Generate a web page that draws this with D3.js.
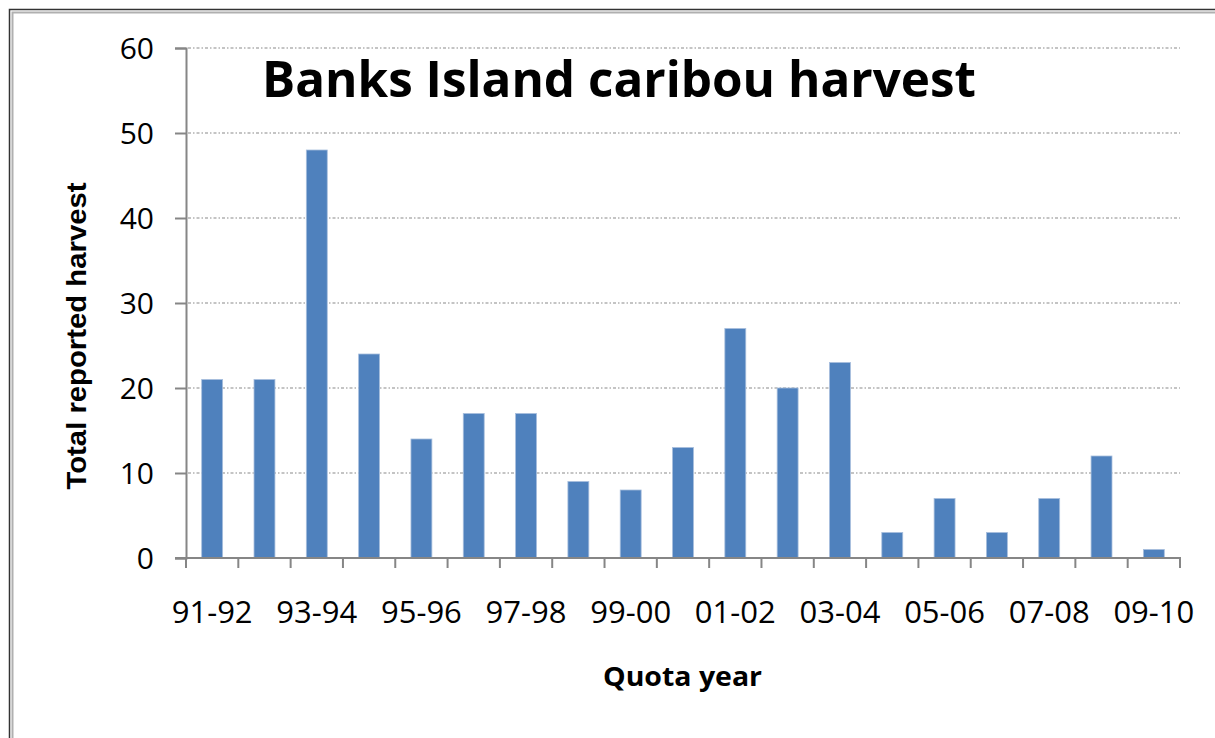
<!DOCTYPE html>
<html>
<head>
<meta charset="utf-8">
<script src="https://cdn.jsdelivr.net/npm/d3@7"></script>
<style>
  body { margin: 0; background: #fff; }
  svg { display: block; }
</style>
</head>
<body>
<div id="chart"></div>
<script>
// quota years and reported harvest
var years = ["91-92","92-93","93-94","94-95","95-96","96-97","97-98","98-99","99-00","00-01",
             "01-02","02-03","03-04","04-05","05-06","06-07","07-08","08-09","09-10"];
var harvest = [21, 21, 48, 24, 14, 17, 17, 9, 8, 13, 27, 20, 23, 3, 7, 3, 7, 12, 1];
var yTicks = [0, 10, 20, 30, 40, 50, 60];
// only every other year gets a label
var shownLabels = ["91-92","93-94","95-96","97-98","99-00","01-02","03-04","05-06","07-08","09-10"];

var w = 1215, h = 738;
// plot box (don't call it "top", that's window.top)
var plotL = 186, plotR = 1180, plotT = 48, plotB = 558;

var svg = d3.select("#chart").append("svg")
  .attr("width", w)
  .attr("height", h);

// frame round the chart (runs off the right and bottom edge)
svg.append("rect")
  .attr("x", 9.5).attr("y", 9.5)
  .attr("width", 1250).attr("height", 800)
  .attr("fill", "none").attr("stroke", "#333").attr("stroke-width", 1.5);
svg.append("rect")
  .attr("x", 12.5).attr("y", 12.5)
  .attr("width", 1250).attr("height", 800)
  .attr("fill", "none").attr("stroke", "#b0b0b0").attr("stroke-width", 2);

var x = d3.scaleBand()
  .domain(years)
  .range([plotL, plotR])
  .paddingInner(0.6)
  .paddingOuter(0.3);

var y = d3.scaleLinear()
  .domain([0, 60])
  .range([plotB, plotT]);

// gridlines
svg.append("g")
  .selectAll("line")
  .data(yTicks.filter(d => d > 0))
  .enter()
  .append("line")
  .attr("x1", plotL + 2)
  .attr("x2", plotR)
  .attr("y1", d => y(d))
  .attr("y2", d => y(d))
  .attr("stroke", "#8a8a8a")
  .attr("stroke-width", 1.2)
  .attr("stroke-dasharray", "3,2,1.5,2");

// bars
svg.append("g")
  .selectAll("rect")
  .data(harvest)
  .enter()
  .append("rect")
  .attr("x", (d, i) => x(years[i]))
  .attr("width", x.bandwidth())
  .attr("y", d => y(d))
  .attr("height", d => y(0) - y(d))
  .attr("fill", "#4f81bd")
  .attr("stroke", "#a7bedd")
  .attr("stroke-width", 0.8);

// y axis
var yAxis = svg.append("g")
  .attr("transform", "translate(" + plotL + ",0)")
  .call(d3.axisLeft(y).tickValues(yTicks).tickSize(11).tickPadding(21));
yAxis.select(".domain").attr("stroke", "#868686").attr("stroke-width", 2);
yAxis.selectAll(".tick line").attr("stroke", "#868686").attr("stroke-width", 2);
yAxis.selectAll(".tick text")
  .attr("fill", "#000")
  .style("font-family", "'Open Sans', sans-serif")
  .style("font-size", "30px")
  .attr("dy", "0.36em");

// x axis: ticks at the category boundaries
var step = x.step();
var edges = d3.range(years.length + 1).map(i => plotL + i * step);
var xAxis = svg.append("g");
xAxis.append("line")
  .attr("x1", plotL - 11).attr("x2", plotR + 1)
  .attr("y1", plotB).attr("y2", plotB)
  .attr("stroke", "#868686").attr("stroke-width", 2);
xAxis.selectAll(".edge")
  .data(edges)
  .enter()
  .append("line")
  .attr("class", "edge")
  .attr("x1", d => d).attr("x2", d => d)
  .attr("y1", plotB).attr("y2", plotB + 10)
  .attr("stroke", "#868686").attr("stroke-width", 2);
xAxis.selectAll("text")
  .data(shownLabels)
  .enter()
  .append("text")
  .attr("x", d => x(d) + x.bandwidth() / 2)
  .attr("y", 623)
  .attr("text-anchor", "middle")
  .style("font-family", "'Open Sans', sans-serif")
  .style("font-size", "31px")
  .text(d => d);

// title
svg.append("text")
  .attr("x", 262)
  .attr("y", 97)
  .attr("textLength", 714)
  .attr("lengthAdjust", "spacingAndGlyphs")
  .style("font-family", "'Open Sans', sans-serif")
  .style("font-weight", "bold")
  .style("font-size", "50px")
  .text("Banks Island caribou harvest");

// axis titles
svg.append("text")
  .attr("transform", "translate(86,336) rotate(-90)")
  .attr("text-anchor", "middle")
  .attr("textLength", 307)
  .attr("lengthAdjust", "spacingAndGlyphs")
  .style("font-family", "'Liberation Sans', Arial, sans-serif")
  .style("font-weight", "bold")
  .style("font-size", "27px")
  .text("Total reported harvest");

svg.append("text")
  .attr("x", 603)
  .attr("y", 686)
  .attr("textLength", 159)
  .attr("lengthAdjust", "spacingAndGlyphs")
  .style("font-family", "'Open Sans', sans-serif")
  .style("font-weight", "bold")
  .style("font-size", "26px")
  .text("Quota year");
</script>
</body>
</html>
